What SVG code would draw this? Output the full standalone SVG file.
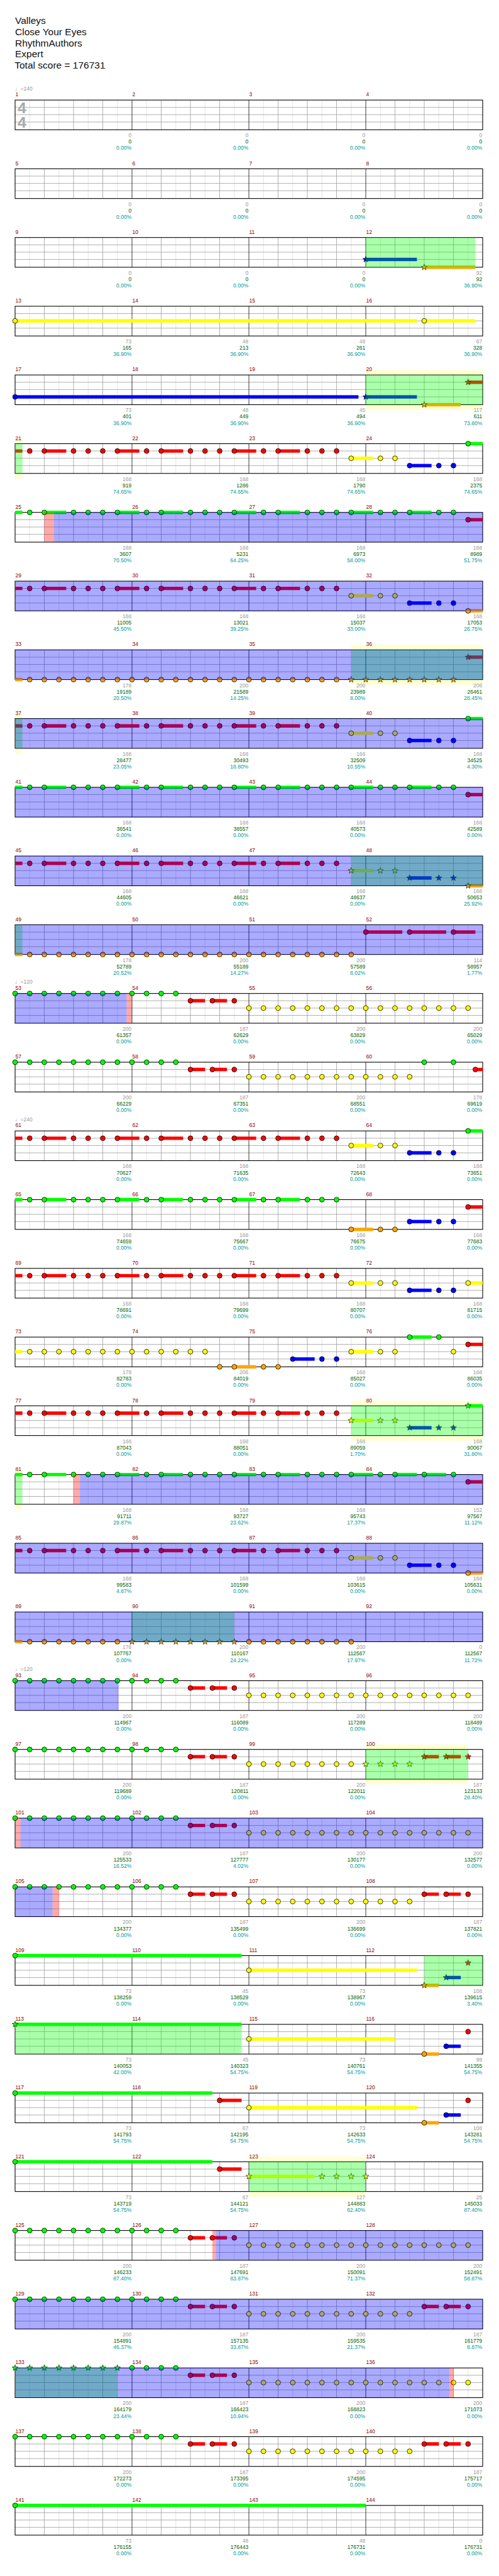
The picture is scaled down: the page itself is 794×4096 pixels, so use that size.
<svg xmlns="http://www.w3.org/2000/svg" width="794" height="4096" viewBox="0 0 794 4096">
<style>
.hl{stroke:#dcdcdc;stroke-width:1;fill:none}
.bl{stroke:#999;stroke-width:1;fill:none}
.ml{stroke:#000;stroke-width:1;fill:none}
.bd{fill:none;stroke:#000;stroke-width:1.4}
.ob{fill:#00f;fill-opacity:.333}
.or{fill:#f00;fill-opacity:.333}
.og{fill:#0f0;fill-opacity:.333}
.hy{fill:#ff0;fill-opacity:.18}
.t{font-family:"Liberation Sans","DejaVu Sans",Arial,sans-serif}
.ti{font-size:20px;fill:#111}
.mn{font-size:11px;fill:#8b0000}
.st{font-size:11px;text-anchor:end}
.sg{fill:#9a9a9a}.sc{fill:#006400}.sp{fill:#009a9a}
.tp{font-size:11px;fill:#999}
.ts{font-size:32px;font-weight:bold;fill:#aaa}
.G{fill:#0f0}.R{fill:#f00}.Y{fill:#ff0}.B{fill:#00f}.O{fill:#ffa500}
</style>
<defs>
<circle id="c" r="5" stroke="#000" stroke-width="1"/>
<polygon id="s" points="0,-6.5 1.6,-2.2 6.2,-2 2.6,0.8 3.8,5.3 0,2.7 -3.8,5.3 -2.6,0.8 -6.2,-2 -1.6,-2.2" stroke="#000" stroke-width="0.8"/>
<g id="staff">
<path class="hl" d="M61 0v61M121 0v61M181 0v61M241 0v61M301 0v61M361 0v61M421 0v61M481 0v61M541 0v61M601 0v61M661 0v61M721 0v61M781 0v61M841 0v61M901 0v61M961 0v61"/>
<path class="bl" d="M91 0v61M151 0v61M211 0v61M331 0v61M391 0v61M451 0v61M571 0v61M631 0v61M691 0v61M811 0v61M871 0v61M931 0v61M31 15h960M31 30h960M31 45h960"/>
<path class="ml" d="M271 0v61M511 0v61M751 0v61"/>
<rect class="bd" x="31" y="0" width="960" height="61"/>
</g>
<g id="ra">
<path d="M31-3.5h15v7h-15zM91-3.5h45v7h-45zM241-3.5h45v7h-45zM331-3.5h45v7h-45zM481-3.5h45v7h-45zM571-3.5h45v7h-45z"/>
<use href="#c" x="61"/><use href="#c" x="91"/><use href="#c" x="151"/><use href="#c" x="181"/><use href="#c" x="211"/><use href="#c" x="241"/><use href="#c" x="301"/><use href="#c" x="331"/><use href="#c" x="391"/><use href="#c" x="421"/><use href="#c" x="451"/><use href="#c" x="481"/><use href="#c" x="541"/><use href="#c" x="571"/><use href="#c" x="631"/><use href="#c" x="661"/><use href="#c" x="691"/>
</g>
<g id="tri"><rect y="-3.5" width="45" height="7"/><use href="#c"/><use href="#c" x="60"/><use href="#c" x="90"/></g>
<g id="tris"><rect y="-3.5" width="45" height="7"/><use href="#s"/><use href="#s" x="60"/><use href="#s" x="90"/></g>
<g id="rt"><path d="M0-3.5h30v7h-30zM45-3.5h30v7h-30z"/><use href="#c"/><use href="#c" x="45"/><use href="#c" x="90"/></g>
<g id="rts"><path d="M0-3.5h30v7h-30zM45-3.5h30v7h-30z"/><use href="#s"/><use href="#s" x="45"/><use href="#s" x="90"/></g>
<g id="g12" class="G"><use href="#c" x="31"/><use href="#c" x="61"/><use href="#c" x="91"/><use href="#c" x="121"/><use href="#c" x="151"/><use href="#c" x="181"/><use href="#c" x="211"/><use href="#c" x="241"/><use href="#c" x="271"/><use href="#c" x="301"/><use href="#c" x="331"/><use href="#c" x="361"/></g>
<g id="y12" class="Y"><use href="#c" x="511" y="30"/><use href="#c" x="541" y="30"/><use href="#c" x="571" y="30"/><use href="#c" x="601" y="30"/><use href="#c" x="631" y="30"/><use href="#c" x="661" y="30"/><use href="#c" x="691" y="30"/><use href="#c" x="721" y="30"/><use href="#c" x="751" y="30"/><use href="#c" x="781" y="30"/><use href="#c" x="811" y="30"/><use href="#c" x="841" y="30"/></g>
<g id="y16"><use href="#y12"/><g class="Y"><use href="#c" x="871" y="30"/><use href="#c" x="901" y="30"/><use href="#c" x="931" y="30"/><use href="#c" x="961" y="30"/></g></g>
<g id="slow"><use href="#g12"/><use href="#rt" x="391" y="15" class="R"/></g>
</defs>
<rect width="794" height="4096" fill="#fff"/>
<g transform="scale(0.775)">
<g id="header" class="t ti">
<text x="31" y="49">Valleys</text>
<text x="31" y="72">Close Your Eyes</text>
<text x="31" y="95">RhythmAuthors</text>
<text x="31" y="118">Expert</text>
<text x="30" y="141">Total score = 176731</text>
</g>

<g id="row-1-4" transform="translate(0,205.3)">
<text class="t tp" x="31" y="-20">♩=240</text>
<use href="#staff"/>
<text class="t ts" x="36" y="27">4</text><text class="t ts" x="36" y="57">4</text>
<text class="t mn" y="-7.5"><tspan x="31.5">1</tspan><tspan x="271.5">2</tspan><tspan x="511.5">3</tspan><tspan x="751.5">4</tspan></text>
<text class="t st sg" y="76.4"><tspan x="270">0</tspan><tspan x="510">0</tspan><tspan x="750">0</tspan><tspan x="990">0</tspan></text>
<text class="t st sc" y="89.4"><tspan x="270">0</tspan><tspan x="510">0</tspan><tspan x="750">0</tspan><tspan x="990">0</tspan></text>
<text class="t st sp" y="102.4"><tspan x="270">0.00%</tspan><tspan x="510">0.00%</tspan><tspan x="750">0.00%</tspan><tspan x="990">0.00%</tspan></text>
</g>

<g id="row-5-8" transform="translate(0,346.3)">
<use href="#staff"/>
<text class="t mn" y="-7.5"><tspan x="31.5">5</tspan><tspan x="271.5">6</tspan><tspan x="511.5">7</tspan><tspan x="751.5">8</tspan></text>
<text class="t st sg" y="76.4"><tspan x="270">0</tspan><tspan x="510">0</tspan><tspan x="750">0</tspan><tspan x="990">0</tspan></text>
<text class="t st sc" y="89.4"><tspan x="270">0</tspan><tspan x="510">0</tspan><tspan x="750">0</tspan><tspan x="990">0</tspan></text>
<text class="t st sp" y="102.4"><tspan x="270">0.00%</tspan><tspan x="510">0.00%</tspan><tspan x="750">0.00%</tspan><tspan x="990">0.00%</tspan></text>
</g>

<g id="row-9-12" transform="translate(0,487.3)">
<use href="#staff"/>
<rect class="B" x="751" y="41.5" width="105" height="7"/><use href="#s" class="B" x="751" y="45"/>
<rect class="O" x="871" y="57.5" width="105" height="7"/><use href="#s" class="O" x="871" y="61"/>
<rect class="og" x="751" width="225" height="61"/>
<text class="t mn" y="-7.5"><tspan x="31.5">9</tspan><tspan x="271.5">10</tspan><tspan x="511.5">11</tspan><tspan x="751.5">12</tspan></text>
<text class="t st sg" y="76.4"><tspan x="270">0</tspan><tspan x="510">0</tspan><tspan x="750">0</tspan><tspan x="990">92</tspan></text>
<text class="t st sc" y="89.4"><tspan x="270">0</tspan><tspan x="510">0</tspan><tspan x="750">0</tspan><tspan x="990">92</tspan></text>
<text class="t st sp" y="102.4"><tspan x="270">0.00%</tspan><tspan x="510">0.00%</tspan><tspan x="750">0.00%</tspan><tspan x="990">36.90%</tspan></text>
</g>

<g id="row-13-16" transform="translate(0,628.3)">
<use href="#staff"/>
<rect class="Y" x="31" y="26.5" width="825" height="7"/><use href="#c" class="Y" x="31" y="30"/>
<rect class="Y" x="871" y="26.5" width="105" height="7"/><use href="#c" class="Y" x="871" y="30"/>
<text class="t mn" y="-7.5"><tspan x="31.5">13</tspan><tspan x="271.5">14</tspan><tspan x="511.5">15</tspan><tspan x="751.5">16</tspan></text>
<text class="t st sg" y="76.4"><tspan x="270">73</tspan><tspan x="510">48</tspan><tspan x="750">48</tspan><tspan x="990">67</tspan></text>
<text class="t st sc" y="89.4"><tspan x="270">165</tspan><tspan x="510">213</tspan><tspan x="750">261</tspan><tspan x="990">328</tspan></text>
<text class="t st sp" y="102.4"><tspan x="270">36.90%</tspan><tspan x="510">36.90%</tspan><tspan x="750">36.90%</tspan><tspan x="990">36.90%</tspan></text>
</g>

<g id="row-17-20" transform="translate(0,769.3)">
<rect class="hy" x="751" y="-10" width="240" height="10"/><rect class="hy" x="751" y="61" width="240" height="10.5"/>
<use href="#staff"/>
<rect class="B" x="31" y="41.5" width="705" height="7"/><use href="#c" class="B" x="31" y="45"/>
<rect class="B" x="751" y="41.5" width="105" height="7"/><use href="#s" class="B" x="751" y="45"/>
<rect class="O" x="871" y="57.5" width="75" height="7"/><use href="#s" class="O" x="871" y="61"/>
<rect class="R" x="961" y="11.5" width="30" height="7"/><use href="#s" class="R" x="961" y="15"/>
<rect class="og" x="751" width="240" height="61"/>
<text class="t mn" y="-7.5"><tspan x="31.5">17</tspan><tspan x="271.5">18</tspan><tspan x="511.5">19</tspan><tspan x="751.5">20</tspan></text>
<text class="t st sg" y="76.4"><tspan x="270">73</tspan><tspan x="510">48</tspan><tspan x="750">45</tspan><tspan x="990">117</tspan></text>
<text class="t st sc" y="89.4"><tspan x="270">401</tspan><tspan x="510">449</tspan><tspan x="750">494</tspan><tspan x="990">611</tspan></text>
<text class="t st sp" y="102.4"><tspan x="270">36.90%</tspan><tspan x="510">36.90%</tspan><tspan x="750">36.90%</tspan><tspan x="990">73.80%</tspan></text>
</g>

<g id="row-21-24" transform="translate(0,910.3)">
<rect class="hy" x="31" y="-10" width="15" height="10"/><rect class="hy" x="31" y="61" width="15" height="10.5"/>
<use href="#staff"/>
<use href="#ra" y="15" class="R"/>
<use href="#tri" x="721" y="30" class="Y"/><use href="#tri" x="841" y="45" class="B"/>
<rect class="G" x="961" y="-3.5" width="30" height="7"/><use href="#c" class="G" x="961"/>
<rect class="og" x="31" width="15" height="61"/>
<text class="t mn" y="-7.5"><tspan x="31.5">21</tspan><tspan x="271.5">22</tspan><tspan x="511.5">23</tspan><tspan x="751.5">24</tspan></text>
<text class="t st sg" y="76.4"><tspan x="270">168</tspan><tspan x="510">168</tspan><tspan x="750">168</tspan><tspan x="990">168</tspan></text>
<text class="t st sc" y="89.4"><tspan x="270">919</tspan><tspan x="510">1286</tspan><tspan x="750">1790</tspan><tspan x="990">2375</tspan></text>
<text class="t st sp" y="102.4"><tspan x="270">74.65%</tspan><tspan x="510">74.65%</tspan><tspan x="750">74.65%</tspan><tspan x="990">74.65%</tspan></text>
</g>

<g id="row-25-28" transform="translate(0,1051.3)">
<use href="#staff"/>
<use href="#ra" class="G"/><use href="#tri" x="721" class="G"/><use href="#tri" x="841" class="G"/>
<rect class="R" x="961" y="11.5" width="30" height="7"/><use href="#c" class="R" x="961" y="15"/>
<rect class="or" x="91" width="20" height="61"/><rect class="ob" x="111" width="880" height="61"/>
<text class="t mn" y="-7.5"><tspan x="31.5">25</tspan><tspan x="271.5">26</tspan><tspan x="511.5">27</tspan><tspan x="751.5">28</tspan></text>
<text class="t st sg" y="76.4"><tspan x="270">168</tspan><tspan x="510">168</tspan><tspan x="750">168</tspan><tspan x="990">168</tspan></text>
<text class="t st sc" y="89.4"><tspan x="270">3607</tspan><tspan x="510">5231</tspan><tspan x="750">6973</tspan><tspan x="990">8989</tspan></text>
<text class="t st sp" y="102.4"><tspan x="270">70.50%</tspan><tspan x="510">64.25%</tspan><tspan x="750">58.00%</tspan><tspan x="990">51.75%</tspan></text>
</g>

<g id="row-29-32" transform="translate(0,1192.3)">
<use href="#staff"/>
<use href="#ra" y="15" class="R"/>
<use href="#tri" x="721" y="30" class="Y"/><use href="#tri" x="841" y="45" class="B"/>
<rect class="O" x="961" y="57.5" width="30" height="7"/><use href="#c" class="O" x="961" y="61"/>
<rect class="ob" x="31" width="960" height="61"/>
<text class="t mn" y="-7.5"><tspan x="31.5">29</tspan><tspan x="271.5">30</tspan><tspan x="511.5">31</tspan><tspan x="751.5">32</tspan></text>
<text class="t st sg" y="76.4"><tspan x="270">168</tspan><tspan x="510">168</tspan><tspan x="750">168</tspan><tspan x="990">168</tspan></text>
<text class="t st sc" y="89.4"><tspan x="270">11005</tspan><tspan x="510">13021</tspan><tspan x="750">15037</tspan><tspan x="990">17053</tspan></text>
<text class="t st sp" y="102.4"><tspan x="270">45.50%</tspan><tspan x="510">39.25%</tspan><tspan x="750">33.00%</tspan><tspan x="990">26.75%</tspan></text>
</g>

<g id="row-33-36" transform="translate(0,1333.3)">
<rect class="hy" x="721" y="-10" width="270" height="10"/><rect class="hy" x="721" y="61" width="270" height="10.5"/>
<use href="#staff"/>
<rect class="O" x="31" y="57.5" width="15" height="7"/>
<g class="O" transform="translate(0,61)"><use href="#c" x="61"/><use href="#c" x="91"/><use href="#c" x="121"/><use href="#c" x="151"/><use href="#c" x="181"/><use href="#c" x="211"/><use href="#c" x="241"/><use href="#c" x="271"/><use href="#c" x="301"/><use href="#c" x="331"/><use href="#c" x="361"/><use href="#c" x="391"/><use href="#c" x="421"/><use href="#c" x="451"/><use href="#c" x="481"/><use href="#c" x="511"/><use href="#c" x="541"/><use href="#c" x="571"/><use href="#c" x="601"/><use href="#c" x="631"/><use href="#c" x="661"/><use href="#c" x="691"/><use href="#s" x="721"/><use href="#s" x="751"/><use href="#s" x="781"/><use href="#s" x="811"/><use href="#s" x="841"/><use href="#s" x="871"/><use href="#s" x="901"/><use href="#s" x="931"/></g>
<rect class="R" x="961" y="11.5" width="30" height="7"/><use href="#s" class="R" x="961" y="15"/>
<rect class="og" x="721" width="270" height="61"/><rect class="ob" x="31" width="960" height="61"/>
<text class="t mn" y="-7.5"><tspan x="31.5">33</tspan><tspan x="271.5">34</tspan><tspan x="511.5">35</tspan><tspan x="751.5">36</tspan></text>
<text class="t st sg" y="76.4"><tspan x="270">178</tspan><tspan x="510">200</tspan><tspan x="750">200</tspan><tspan x="990">206</tspan></text>
<text class="t st sc" y="89.4"><tspan x="270">19189</tspan><tspan x="510">21589</tspan><tspan x="750">23989</tspan><tspan x="990">26461</tspan></text>
<text class="t st sp" y="102.4"><tspan x="270">20.50%</tspan><tspan x="510">14.25%</tspan><tspan x="750">8.00%</tspan><tspan x="990">28.45%</tspan></text>
</g>

<g id="row-37-40" transform="translate(0,1474.3)">
<rect class="hy" x="31" y="-10" width="15" height="10"/><rect class="hy" x="31" y="61" width="15" height="10.5"/>
<use href="#staff"/>
<use href="#ra" y="15" class="R"/>
<use href="#tri" x="721" y="30" class="Y"/><use href="#tri" x="841" y="45" class="B"/>
<rect class="G" x="961" y="-3.5" width="30" height="7"/><use href="#c" class="G" x="961"/>
<rect class="og" x="31" width="15" height="61"/><rect class="ob" x="31" width="960" height="61"/>
<text class="t mn" y="-7.5"><tspan x="31.5">37</tspan><tspan x="271.5">38</tspan><tspan x="511.5">39</tspan><tspan x="751.5">40</tspan></text>
<text class="t st sg" y="76.4"><tspan x="270">168</tspan><tspan x="510">168</tspan><tspan x="750">168</tspan><tspan x="990">168</tspan></text>
<text class="t st sc" y="89.4"><tspan x="270">28477</tspan><tspan x="510">30493</tspan><tspan x="750">32509</tspan><tspan x="990">34525</tspan></text>
<text class="t st sp" y="102.4"><tspan x="270">23.05%</tspan><tspan x="510">16.80%</tspan><tspan x="750">10.55%</tspan><tspan x="990">4.30%</tspan></text>
</g>

<g id="row-41-44" transform="translate(0,1615.3)">
<use href="#staff"/>
<use href="#ra" class="G"/><use href="#tri" x="721" class="G"/><use href="#tri" x="841" class="G"/>
<rect class="R" x="961" y="11.5" width="30" height="7"/><use href="#c" class="R" x="961" y="15"/>
<rect class="ob" x="31" width="960" height="61"/>
<text class="t mn" y="-7.5"><tspan x="31.5">41</tspan><tspan x="271.5">42</tspan><tspan x="511.5">43</tspan><tspan x="751.5">44</tspan></text>
<text class="t st sg" y="76.4"><tspan x="270">168</tspan><tspan x="510">168</tspan><tspan x="750">168</tspan><tspan x="990">168</tspan></text>
<text class="t st sc" y="89.4"><tspan x="270">36541</tspan><tspan x="510">38557</tspan><tspan x="750">40573</tspan><tspan x="990">42589</tspan></text>
<text class="t st sp" y="102.4"><tspan x="270">0.00%</tspan><tspan x="510">0.00%</tspan><tspan x="750">0.00%</tspan><tspan x="990">0.00%</tspan></text>
</g>

<g id="row-45-48" transform="translate(0,1756.3)">
<use href="#staff"/>
<use href="#ra" y="15" class="R"/>
<use href="#tris" x="721" y="30" class="Y"/><use href="#tris" x="841" y="45" class="B"/>
<rect class="O" x="961" y="57.5" width="30" height="7"/><use href="#s" class="O" x="961" y="61"/>
<rect class="og" x="721" width="270" height="61"/><rect class="ob" x="31" width="960" height="61"/>
<text class="t mn" y="-7.5"><tspan x="31.5">45</tspan><tspan x="271.5">46</tspan><tspan x="511.5">47</tspan><tspan x="751.5">48</tspan></text>
<text class="t st sg" y="76.4"><tspan x="270">168</tspan><tspan x="510">168</tspan><tspan x="750">168</tspan><tspan x="990">168</tspan></text>
<text class="t st sc" y="89.4"><tspan x="270">44605</tspan><tspan x="510">46621</tspan><tspan x="750">48637</tspan><tspan x="990">50653</tspan></text>
<text class="t st sp" y="102.4"><tspan x="270">0.00%</tspan><tspan x="510">0.00%</tspan><tspan x="750">0.00%</tspan><tspan x="990">25.92%</tspan></text>
</g>

<g id="row-49-52" transform="translate(0,1897.3)">
<use href="#staff"/>
<rect class="O" x="31" y="57.5" width="15" height="7"/>
<g class="O" transform="translate(0,61)"><use href="#c" x="61"/><use href="#c" x="91"/><use href="#c" x="121"/><use href="#c" x="151"/><use href="#c" x="181"/><use href="#c" x="211"/><use href="#c" x="241"/><use href="#c" x="271"/><use href="#c" x="301"/><use href="#c" x="331"/><use href="#c" x="361"/><use href="#c" x="391"/><use href="#c" x="421"/><use href="#c" x="451"/><use href="#c" x="481"/><use href="#c" x="511"/><use href="#c" x="541"/><use href="#c" x="571"/><use href="#c" x="601"/><use href="#c" x="631"/><use href="#c" x="661"/><use href="#c" x="691"/><use href="#c" x="721"/></g>
<g class="R"><rect x="751" y="11.5" width="75" height="7"/><use href="#c" x="751" y="15"/><rect x="841" y="11.5" width="75" height="7"/><use href="#c" x="841" y="15"/><rect x="931" y="11.5" width="45" height="7"/><use href="#c" x="931" y="15"/></g>
<rect class="og" x="31" width="15" height="61"/><rect class="ob" x="31" width="960" height="61"/>
<text class="t mn" y="-7.5"><tspan x="31.5">49</tspan><tspan x="271.5">50</tspan><tspan x="511.5">51</tspan><tspan x="751.5">52</tspan></text>
<text class="t st sg" y="76.4"><tspan x="270">178</tspan><tspan x="510">200</tspan><tspan x="750">200</tspan><tspan x="990">114</tspan></text>
<text class="t st sc" y="89.4"><tspan x="270">52789</tspan><tspan x="510">55189</tspan><tspan x="750">57589</tspan><tspan x="990">58957</tspan></text>
<text class="t st sp" y="102.4"><tspan x="270">20.52%</tspan><tspan x="510">14.27%</tspan><tspan x="750">8.02%</tspan><tspan x="990">1.77%</tspan></text>
</g>

<g id="row-53-56" transform="translate(0,2038.3)">
<text class="t tp" x="31" y="-20">♩=120</text>
<use href="#staff"/>
<use href="#slow"/><use href="#y16"/>
<rect class="ob" x="31" width="229" height="61"/><rect class="or" x="260" width="11" height="61"/>
<text class="t mn" y="-7.5"><tspan x="31.5">53</tspan><tspan x="271.5">54</tspan><tspan x="511.5">55</tspan><tspan x="751.5">56</tspan></text>
<text class="t st sg" y="76.4"><tspan x="270">200</tspan><tspan x="510">187</tspan><tspan x="750">200</tspan><tspan x="990">200</tspan></text>
<text class="t st sc" y="89.4"><tspan x="270">61357</tspan><tspan x="510">62629</tspan><tspan x="750">63829</tspan><tspan x="990">65029</tspan></text>
<text class="t st sp" y="102.4"><tspan x="270">0.00%</tspan><tspan x="510">0.00%</tspan><tspan x="750">0.00%</tspan><tspan x="990">0.00%</tspan></text>
</g>

<g id="row-57-60" transform="translate(0,2179.3)">
<use href="#staff"/>
<use href="#slow"/><use href="#y12"/>
<use href="#c" class="G" x="871"/><use href="#c" class="G" x="931"/>
<rect class="R" x="976" y="11.5" width="15" height="7"/><use href="#c" class="R" x="976" y="15"/>
<text class="t mn" y="-7.5"><tspan x="31.5">57</tspan><tspan x="271.5">58</tspan><tspan x="511.5">59</tspan><tspan x="751.5">60</tspan></text>
<text class="t st sg" y="76.4"><tspan x="270">200</tspan><tspan x="510">187</tspan><tspan x="750">200</tspan><tspan x="990">178</tspan></text>
<text class="t st sc" y="89.4"><tspan x="270">66229</tspan><tspan x="510">67351</tspan><tspan x="750">68551</tspan><tspan x="990">69619</tspan></text>
<text class="t st sp" y="102.4"><tspan x="270">0.00%</tspan><tspan x="510">0.00%</tspan><tspan x="750">0.00%</tspan><tspan x="990">0.00%</tspan></text>
</g>

<g id="row-61-64" transform="translate(0,2320.3)">
<text class="t tp" x="31" y="-20">♩=240</text>
<use href="#staff"/>
<use href="#ra" y="15" class="R"/>
<use href="#tri" x="721" y="30" class="Y"/><use href="#tri" x="841" y="45" class="B"/>
<rect class="G" x="961" y="-3.5" width="30" height="7"/><use href="#c" class="G" x="961"/>
<text class="t mn" y="-7.5"><tspan x="31.5">61</tspan><tspan x="271.5">62</tspan><tspan x="511.5">63</tspan><tspan x="751.5">64</tspan></text>
<text class="t st sg" y="76.4"><tspan x="270">168</tspan><tspan x="510">168</tspan><tspan x="750">168</tspan><tspan x="990">168</tspan></text>
<text class="t st sc" y="89.4"><tspan x="270">70627</tspan><tspan x="510">71635</tspan><tspan x="750">72643</tspan><tspan x="990">73651</tspan></text>
<text class="t st sp" y="102.4"><tspan x="270">0.00%</tspan><tspan x="510">0.00%</tspan><tspan x="750">0.00%</tspan><tspan x="990">0.00%</tspan></text>
</g>

<g id="row-65-68" transform="translate(0,2461.3)">
<use href="#staff"/>
<use href="#ra" class="G"/>
<use href="#tri" x="721" y="61" class="O"/><use href="#tri" x="841" y="45" class="B"/>
<rect class="R" x="961" y="11.5" width="30" height="7"/><use href="#c" class="R" x="961" y="15"/>
<text class="t mn" y="-7.5"><tspan x="31.5">65</tspan><tspan x="271.5">66</tspan><tspan x="511.5">67</tspan><tspan x="751.5">68</tspan></text>
<text class="t st sg" y="76.4"><tspan x="270">168</tspan><tspan x="510">168</tspan><tspan x="750">168</tspan><tspan x="990">168</tspan></text>
<text class="t st sc" y="89.4"><tspan x="270">74659</tspan><tspan x="510">75667</tspan><tspan x="750">76675</tspan><tspan x="990">77683</tspan></text>
<text class="t st sp" y="102.4"><tspan x="270">0.00%</tspan><tspan x="510">0.00%</tspan><tspan x="750">0.00%</tspan><tspan x="990">0.00%</tspan></text>
</g>

<g id="row-69-72" transform="translate(0,2602.3)">
<use href="#staff"/>
<use href="#ra" y="15" class="R"/>
<use href="#tri" x="721" y="30" class="Y"/><use href="#tri" x="841" y="45" class="B"/>
<rect class="Y" x="961" y="26.5" width="30" height="7"/><use href="#c" class="Y" x="961" y="30"/>
<text class="t mn" y="-7.5"><tspan x="31.5">69</tspan><tspan x="271.5">70</tspan><tspan x="511.5">71</tspan><tspan x="751.5">72</tspan></text>
<text class="t st sg" y="76.4"><tspan x="270">168</tspan><tspan x="510">168</tspan><tspan x="750">168</tspan><tspan x="990">168</tspan></text>
<text class="t st sc" y="89.4"><tspan x="270">78691</tspan><tspan x="510">79699</tspan><tspan x="750">80707</tspan><tspan x="990">81715</tspan></text>
<text class="t st sp" y="102.4"><tspan x="270">0.00%</tspan><tspan x="510">0.00%</tspan><tspan x="750">0.00%</tspan><tspan x="990">0.00%</tspan></text>
</g>

<g id="row-73-76" transform="translate(0,2743.3)">
<use href="#staff"/>
<g class="Y"><rect x="31" y="26.5" width="15" height="7"/><g transform="translate(0,30)"><use href="#c" x="61"/><use href="#c" x="91"/><use href="#c" x="121"/><use href="#c" x="151"/><use href="#c" x="181"/><use href="#c" x="211"/><use href="#c" x="241"/><use href="#c" x="271"/><use href="#c" x="301"/><use href="#c" x="331"/><use href="#c" x="361"/><use href="#c" x="391"/><use href="#c" x="421"/></g></g>
<use href="#c" class="O" x="451" y="61"/><use href="#tri" x="481" y="61" class="O"/>
<use href="#tri" x="601" y="45" class="B"/>
<use href="#tri" x="721" y="30" class="Y"/>
<g class="G"><rect x="841" y="-3.5" width="45" height="7"/><use href="#c" x="841"/><use href="#c" x="901"/></g>
<use href="#c" class="Y" x="931" y="30"/>
<rect class="R" x="961" y="11.5" width="30" height="7"/><use href="#c" class="R" x="961" y="15"/>
<text class="t mn" y="-7.5"><tspan x="31.5">73</tspan><tspan x="271.5">74</tspan><tspan x="511.5">75</tspan><tspan x="751.5">76</tspan></text>
<text class="t st sg" y="76.4"><tspan x="270">178</tspan><tspan x="510">206</tspan><tspan x="750">168</tspan><tspan x="990">168</tspan></text>
<text class="t st sc" y="89.4"><tspan x="270">82783</tspan><tspan x="510">84019</tspan><tspan x="750">85027</tspan><tspan x="990">86035</tspan></text>
<text class="t st sp" y="102.4"><tspan x="270">0.00%</tspan><tspan x="510">0.00%</tspan><tspan x="750">0.00%</tspan><tspan x="990">0.00%</tspan></text>
</g>

<g id="row-77-80" transform="translate(0,2884.3)">
<rect class="hy" x="721" y="-10" width="270" height="10"/><rect class="hy" x="721" y="61" width="270" height="10.5"/>
<use href="#staff"/>
<use href="#ra" y="15" class="R"/>
<use href="#tris" x="721" y="30" class="Y"/><use href="#tris" x="841" y="45" class="B"/>
<rect class="G" x="961" y="-3.5" width="30" height="7"/><use href="#s" class="G" x="961"/>
<rect class="og" x="721" width="270" height="61"/>
<text class="t mn" y="-7.5"><tspan x="31.5">77</tspan><tspan x="271.5">78</tspan><tspan x="511.5">79</tspan><tspan x="751.5">80</tspan></text>
<text class="t st sg" y="76.4"><tspan x="270">168</tspan><tspan x="510">168</tspan><tspan x="750">168</tspan><tspan x="990">168</tspan></text>
<text class="t st sc" y="89.4"><tspan x="270">87043</tspan><tspan x="510">88051</tspan><tspan x="750">89059</tspan><tspan x="990">90067</tspan></text>
<text class="t st sp" y="102.4"><tspan x="270">0.00%</tspan><tspan x="510">0.00%</tspan><tspan x="750">1.70%</tspan><tspan x="990">31.80%</tspan></text>
</g>

<g id="row-81-84" transform="translate(0,3025.3)">
<rect class="hy" x="31" y="-10" width="15" height="10"/><rect class="hy" x="31" y="61" width="15" height="10.5"/>
<use href="#staff"/>
<use href="#ra" class="G"/>
<g class="G"><rect x="721" y="-3.5" width="45" height="7"/><rect x="811" y="-3.5" width="45" height="7"/><rect x="871" y="-3.5" width="45" height="7"/><use href="#c" x="721"/><use href="#c" x="781"/><use href="#c" x="811"/><use href="#c" x="871"/><use href="#c" x="931"/></g>
<rect class="R" x="961" y="11.5" width="30" height="7"/><use href="#c" class="R" x="961" y="15"/>
<rect class="og" x="31" width="15" height="61"/><rect class="or" x="151" width="13" height="61"/><rect class="ob" x="164" width="827" height="61"/>
<text class="t mn" y="-7.5"><tspan x="31.5">81</tspan><tspan x="271.5">82</tspan><tspan x="511.5">83</tspan><tspan x="751.5">84</tspan></text>
<text class="t st sg" y="76.4"><tspan x="270">168</tspan><tspan x="510">168</tspan><tspan x="750">168</tspan><tspan x="990">152</tspan></text>
<text class="t st sc" y="89.4"><tspan x="270">91711</tspan><tspan x="510">93727</tspan><tspan x="750">95743</tspan><tspan x="990">97567</tspan></text>
<text class="t st sp" y="102.4"><tspan x="270">29.87%</tspan><tspan x="510">23.62%</tspan><tspan x="750">17.37%</tspan><tspan x="990">11.12%</tspan></text>
</g>

<g id="row-85-88" transform="translate(0,3166.3)">
<use href="#staff"/>
<use href="#ra" y="15" class="R"/>
<use href="#tri" x="721" y="30" class="Y"/><use href="#tri" x="841" y="45" class="B"/>
<rect class="O" x="961" y="57.5" width="30" height="7"/><use href="#c" class="O" x="961" y="61"/>
<rect class="ob" x="31" width="960" height="61"/>
<text class="t mn" y="-7.5"><tspan x="31.5">85</tspan><tspan x="271.5">86</tspan><tspan x="511.5">87</tspan><tspan x="751.5">88</tspan></text>
<text class="t st sg" y="76.4"><tspan x="270">168</tspan><tspan x="510">168</tspan><tspan x="750">168</tspan><tspan x="990">168</tspan></text>
<text class="t st sc" y="89.4"><tspan x="270">99583</tspan><tspan x="510">101599</tspan><tspan x="750">103615</tspan><tspan x="990">105631</tspan></text>
<text class="t st sp" y="102.4"><tspan x="270">4.87%</tspan><tspan x="510">0.00%</tspan><tspan x="750">0.00%</tspan><tspan x="990">0.00%</tspan></text>
</g>

<g id="row-89-92" transform="translate(0,3307.3)">
<use href="#staff"/>
<rect class="O" x="31" y="57.5" width="15" height="7"/>
<g class="O" transform="translate(0,61)"><use href="#c" x="61"/><use href="#c" x="91"/><use href="#c" x="121"/><use href="#c" x="151"/><use href="#c" x="181"/><use href="#c" x="211"/><use href="#c" x="241"/><use href="#s" x="271"/><use href="#s" x="301"/><use href="#s" x="331"/><use href="#s" x="361"/><use href="#s" x="391"/><use href="#s" x="421"/><use href="#s" x="451"/><use href="#s" x="481"/><use href="#c" x="511"/><use href="#c" x="541"/><use href="#c" x="571"/><use href="#c" x="601"/><use href="#c" x="631"/><use href="#c" x="661"/><use href="#c" x="691"/><use href="#c" x="721"/></g>
<rect class="og" x="271" width="210" height="61"/><rect class="ob" x="31" width="960" height="61"/>
<text class="t mn" y="-7.5"><tspan x="31.5">89</tspan><tspan x="271.5">90</tspan><tspan x="511.5">91</tspan><tspan x="751.5">92</tspan></text>
<text class="t st sg" y="76.4"><tspan x="270">178</tspan><tspan x="510">200</tspan><tspan x="750">200</tspan><tspan x="990">0</tspan></text>
<text class="t st sc" y="89.4"><tspan x="270">107767</tspan><tspan x="510">110167</tspan><tspan x="750">112567</tspan><tspan x="990">112567</tspan></text>
<text class="t st sp" y="102.4"><tspan x="270">0.00%</tspan><tspan x="510">24.22%</tspan><tspan x="750">17.97%</tspan><tspan x="990">11.72%</tspan></text>
</g>

<g id="row-93-96" transform="translate(0,3448.3)">
<text class="t tp" x="31" y="-20">♩=120</text>
<use href="#staff"/>
<use href="#slow"/><use href="#y16"/>
<rect class="ob" x="31" width="212.6" height="61"/>
<text class="t mn" y="-7.5"><tspan x="31.5">93</tspan><tspan x="271.5">94</tspan><tspan x="511.5">95</tspan><tspan x="751.5">96</tspan></text>
<text class="t st sg" y="76.4"><tspan x="270">200</tspan><tspan x="510">187</tspan><tspan x="750">200</tspan><tspan x="990">200</tspan></text>
<text class="t st sc" y="89.4"><tspan x="270">114967</tspan><tspan x="510">116089</tspan><tspan x="750">117289</tspan><tspan x="990">118489</tspan></text>
<text class="t st sp" y="102.4"><tspan x="270">0.00%</tspan><tspan x="510">0.00%</tspan><tspan x="750">0.00%</tspan><tspan x="990">0.00%</tspan></text>
</g>

<g id="row-97-100" transform="translate(0,3589.3)">
<rect class="hy" x="751" y="-10" width="210" height="10"/><rect class="hy" x="751" y="61" width="210" height="10.5"/>
<use href="#staff"/>
<use href="#slow"/>
<g class="Y" transform="translate(0,30)"><use href="#c" x="511"/><use href="#c" x="541"/><use href="#c" x="571"/><use href="#c" x="601"/><use href="#c" x="631"/><use href="#c" x="661"/><use href="#c" x="691"/><use href="#c" x="721"/><use href="#s" x="751"/><use href="#s" x="781"/><use href="#s" x="811"/><use href="#s" x="841"/></g>
<use href="#rts" x="871" y="15" class="R"/>
<rect class="og" x="751" width="210" height="61"/>
<text class="t mn" y="-7.5"><tspan x="31.5">97</tspan><tspan x="271.5">98</tspan><tspan x="511.5">99</tspan><tspan x="751.5">100</tspan></text>
<text class="t st sg" y="76.4"><tspan x="270">200</tspan><tspan x="510">187</tspan><tspan x="750">200</tspan><tspan x="990">187</tspan></text>
<text class="t st sc" y="89.4"><tspan x="270">119689</tspan><tspan x="510">120811</tspan><tspan x="750">122011</tspan><tspan x="990">123133</tspan></text>
<text class="t st sp" y="102.4"><tspan x="270">0.00%</tspan><tspan x="510">0.00%</tspan><tspan x="750">0.00%</tspan><tspan x="990">28.40%</tspan></text>
</g>

<g id="row-101-104" transform="translate(0,3730.3)">
<use href="#staff"/>
<use href="#slow"/><use href="#y16"/>
<rect class="or" x="31" width="11" height="61"/><rect class="ob" x="42" width="949" height="61"/>
<text class="t mn" y="-7.5"><tspan x="31.5">101</tspan><tspan x="271.5">102</tspan><tspan x="511.5">103</tspan><tspan x="751.5">104</tspan></text>
<text class="t st sg" y="76.4"><tspan x="270">200</tspan><tspan x="510">187</tspan><tspan x="750">200</tspan><tspan x="990">200</tspan></text>
<text class="t st sc" y="89.4"><tspan x="270">125533</tspan><tspan x="510">127777</tspan><tspan x="750">130177</tspan><tspan x="990">132577</tspan></text>
<text class="t st sp" y="102.4"><tspan x="270">16.52%</tspan><tspan x="510">4.02%</tspan><tspan x="750">0.00%</tspan><tspan x="990">0.00%</tspan></text>
</g>

<g id="row-105-108" transform="translate(0,3871.3)">
<use href="#staff"/>
<use href="#slow"/><use href="#y12"/><use href="#rt" x="871" y="15" class="R"/>
<rect class="ob" x="31" width="77" height="61"/><rect class="or" x="108" width="13.5" height="61"/>
<text class="t mn" y="-7.5"><tspan x="31.5">105</tspan><tspan x="271.5">106</tspan><tspan x="511.5">107</tspan><tspan x="751.5">108</tspan></text>
<text class="t st sg" y="76.4"><tspan x="270">200</tspan><tspan x="510">187</tspan><tspan x="750">200</tspan><tspan x="990">187</tspan></text>
<text class="t st sc" y="89.4"><tspan x="270">134377</tspan><tspan x="510">135499</tspan><tspan x="750">136699</tspan><tspan x="990">137821</tspan></text>
<text class="t st sp" y="102.4"><tspan x="270">0.00%</tspan><tspan x="510">0.00%</tspan><tspan x="750">0.00%</tspan><tspan x="990">0.00%</tspan></text>
</g>

<g id="row-109-112" transform="translate(0,4012.3)">
<use href="#staff"/>
<rect class="G" x="31" y="-3.5" width="465" height="7"/><use href="#c" class="G" x="31"/>
<rect class="Y" x="511" y="26.5" width="345" height="7"/><use href="#c" class="Y" x="511" y="30"/>
<rect class="O" x="871" y="57.5" width="30" height="7"/><use href="#s" class="O" x="871" y="61"/>
<rect class="B" x="916" y="41.5" width="30" height="7"/><use href="#s" class="B" x="916" y="45"/>
<use href="#s" class="R" x="961" y="15"/>
<rect class="og" x="871" width="120" height="61"/>
<text class="t mn" y="-7.5"><tspan x="31.5">109</tspan><tspan x="271.5">110</tspan><tspan x="511.5">111</tspan><tspan x="751.5">112</tspan></text>
<text class="t st sg" y="76.4"><tspan x="270">73</tspan><tspan x="510">45</tspan><tspan x="750">73</tspan><tspan x="990">108</tspan></text>
<text class="t st sc" y="89.4"><tspan x="270">138259</tspan><tspan x="510">138529</tspan><tspan x="750">138967</tspan><tspan x="990">139615</tspan></text>
<text class="t st sp" y="102.4"><tspan x="270">0.00%</tspan><tspan x="510">0.00%</tspan><tspan x="750">0.00%</tspan><tspan x="990">3.40%</tspan></text>
</g>

<g id="row-113-116" transform="translate(0,4153.3)">
<use href="#staff"/>
<rect class="G" x="31" y="-3.5" width="465" height="7"/><use href="#s" class="G" x="31"/>
<rect class="Y" x="511" y="26.5" width="300" height="7"/><use href="#c" class="Y" x="511" y="30"/>
<rect class="O" x="871" y="57.5" width="30" height="7"/><use href="#c" class="O" x="871" y="61"/>
<rect class="B" x="916" y="41.5" width="30" height="7"/><use href="#c" class="B" x="916" y="45"/>
<use href="#c" class="R" x="961" y="15"/>
<rect class="og" x="31" width="465" height="61"/>
<text class="t mn" y="-7.5"><tspan x="31.5">113</tspan><tspan x="271.5">114</tspan><tspan x="511.5">115</tspan><tspan x="751.5">116</tspan></text>
<text class="t st sg" y="76.4"><tspan x="270">73</tspan><tspan x="510">45</tspan><tspan x="750">73</tspan><tspan x="990">99</tspan></text>
<text class="t st sc" y="89.4"><tspan x="270">140053</tspan><tspan x="510">140323</tspan><tspan x="750">140761</tspan><tspan x="990">141355</tspan></text>
<text class="t st sp" y="102.4"><tspan x="270">42.00%</tspan><tspan x="510">54.75%</tspan><tspan x="750">54.75%</tspan><tspan x="990">54.75%</tspan></text>
</g>

<g id="row-117-120" transform="translate(0,4294.3)">
<use href="#staff"/>
<rect class="G" x="31" y="-3.5" width="405" height="7"/><use href="#c" class="G" x="31"/>
<rect class="R" x="451" y="11.5" width="45" height="7"/><use href="#c" class="R" x="451" y="15"/>
<rect class="Y" x="511" y="26.5" width="345" height="7"/><use href="#c" class="Y" x="511" y="30"/>
<rect class="O" x="871" y="57.5" width="30" height="7"/><use href="#c" class="O" x="871" y="61"/>
<rect class="B" x="916" y="41.5" width="30" height="7"/><use href="#c" class="B" x="916" y="45"/>
<use href="#c" class="R" x="961" y="15"/>
<text class="t mn" y="-7.5"><tspan x="31.5">117</tspan><tspan x="271.5">118</tspan><tspan x="511.5">119</tspan><tspan x="751.5">120</tspan></text>
<text class="t st sg" y="76.4"><tspan x="270">73</tspan><tspan x="510">67</tspan><tspan x="750">73</tspan><tspan x="990">108</tspan></text>
<text class="t st sc" y="89.4"><tspan x="270">141793</tspan><tspan x="510">142195</tspan><tspan x="750">142633</tspan><tspan x="990">143281</tspan></text>
<text class="t st sp" y="102.4"><tspan x="270">54.75%</tspan><tspan x="510">54.75%</tspan><tspan x="750">54.75%</tspan><tspan x="990">54.75%</tspan></text>
</g>

<g id="row-121-124" transform="translate(0,4435.3)">
<rect class="hy" x="511" y="-10" width="240" height="10"/><rect class="hy" x="511" y="61" width="240" height="10.5"/>
<use href="#staff"/>
<rect class="G" x="31" y="-3.5" width="405" height="7"/><use href="#c" class="G" x="31"/>
<rect class="R" x="451" y="11.5" width="45" height="7"/><use href="#c" class="R" x="451" y="15"/>
<g class="Y"><rect x="511" y="26.5" width="135" height="7"/><g transform="translate(0,30)"><use href="#s" x="511"/><use href="#s" x="661"/><use href="#s" x="691"/><use href="#s" x="721"/><use href="#s" x="751"/></g></g>
<rect class="og" x="511" width="240" height="61"/>
<text class="t mn" y="-7.5"><tspan x="31.5">121</tspan><tspan x="271.5">122</tspan><tspan x="511.5">123</tspan><tspan x="751.5">124</tspan></text>
<text class="t st sg" y="76.4"><tspan x="270">73</tspan><tspan x="510">67</tspan><tspan x="750">127</tspan><tspan x="990">25</tspan></text>
<text class="t st sc" y="89.4"><tspan x="270">143719</tspan><tspan x="510">144121</tspan><tspan x="750">144883</tspan><tspan x="990">145033</tspan></text>
<text class="t st sp" y="102.4"><tspan x="270">54.75%</tspan><tspan x="510">54.75%</tspan><tspan x="750">62.40%</tspan><tspan x="990">87.40%</tspan></text>
</g>

<g id="row-125-128" transform="translate(0,4576.3)">
<use href="#staff"/>
<use href="#slow"/><use href="#y16"/>
<rect class="or" x="436" width="7" height="61"/><rect class="ob" x="443" width="548" height="61"/>
<text class="t mn" y="-7.5"><tspan x="31.5">125</tspan><tspan x="271.5">126</tspan><tspan x="511.5">127</tspan><tspan x="751.5">128</tspan></text>
<text class="t st sg" y="76.4"><tspan x="270">200</tspan><tspan x="510">187</tspan><tspan x="750">200</tspan><tspan x="990">200</tspan></text>
<text class="t st sc" y="89.4"><tspan x="270">146233</tspan><tspan x="510">147691</tspan><tspan x="750">150091</tspan><tspan x="990">152491</tspan></text>
<text class="t st sp" y="102.4"><tspan x="270">87.40%</tspan><tspan x="510">83.87%</tspan><tspan x="750">71.37%</tspan><tspan x="990">58.87%</tspan></text>
</g>

<g id="row-129-132" transform="translate(0,4717.3)">
<use href="#staff"/>
<use href="#slow"/><use href="#y12"/><use href="#rt" x="871" y="15" class="R"/>
<rect class="ob" x="31" width="960" height="61"/>
<text class="t mn" y="-7.5"><tspan x="31.5">129</tspan><tspan x="271.5">130</tspan><tspan x="511.5">131</tspan><tspan x="751.5">132</tspan></text>
<text class="t st sg" y="76.4"><tspan x="270">200</tspan><tspan x="510">187</tspan><tspan x="750">200</tspan><tspan x="990">187</tspan></text>
<text class="t st sc" y="89.4"><tspan x="270">154891</tspan><tspan x="510">157135</tspan><tspan x="750">159535</tspan><tspan x="990">161779</tspan></text>
<text class="t st sp" y="102.4"><tspan x="270">46.37%</tspan><tspan x="510">33.87%</tspan><tspan x="750">21.37%</tspan><tspan x="990">8.87%</tspan></text>
</g>

<g id="row-133-136" transform="translate(0,4858.3)">
<use href="#staff"/>
<g class="G"><use href="#s" x="31"/><use href="#s" x="61"/><use href="#s" x="91"/><use href="#s" x="121"/><use href="#s" x="151"/><use href="#s" x="181"/><use href="#s" x="211"/><use href="#s" x="241"/><use href="#c" x="271"/><use href="#c" x="301"/><use href="#c" x="331"/><use href="#c" x="361"/></g>
<use href="#rt" x="391" y="15" class="R"/><use href="#y16"/>
<rect class="og" x="31" width="210.7" height="61"/><rect class="ob" x="31" width="892" height="61"/><rect class="or" x="923" width="8.5" height="61"/>
<text class="t mn" y="-7.5"><tspan x="31.5">133</tspan><tspan x="271.5">134</tspan><tspan x="511.5">135</tspan><tspan x="751.5">136</tspan></text>
<text class="t st sg" y="76.4"><tspan x="270">200</tspan><tspan x="510">187</tspan><tspan x="750">200</tspan><tspan x="990">200</tspan></text>
<text class="t st sc" y="89.4"><tspan x="270">164179</tspan><tspan x="510">166423</tspan><tspan x="750">168823</tspan><tspan x="990">171073</tspan></text>
<text class="t st sp" y="102.4"><tspan x="270">23.44%</tspan><tspan x="510">10.94%</tspan><tspan x="750">0.00%</tspan><tspan x="990">0.00%</tspan></text>
</g>

<g id="row-137-140" transform="translate(0,4999.3)">
<use href="#staff"/>
<use href="#slow"/><use href="#y12"/><use href="#rt" x="871" y="15" class="R"/>
<text class="t mn" y="-7.5"><tspan x="31.5">137</tspan><tspan x="271.5">138</tspan><tspan x="511.5">139</tspan><tspan x="751.5">140</tspan></text>
<text class="t st sg" y="76.4"><tspan x="270">200</tspan><tspan x="510">187</tspan><tspan x="750">200</tspan><tspan x="990">187</tspan></text>
<text class="t st sc" y="89.4"><tspan x="270">172273</tspan><tspan x="510">173395</tspan><tspan x="750">174595</tspan><tspan x="990">175717</tspan></text>
<text class="t st sp" y="102.4"><tspan x="270">0.00%</tspan><tspan x="510">0.00%</tspan><tspan x="750">0.00%</tspan><tspan x="990">0.00%</tspan></text>
</g>

<g id="row-141-144" transform="translate(0,5140.3)">
<use href="#staff"/>
<rect class="G" x="31" y="-3.5" width="720" height="7"/><use href="#c" class="G" x="31"/>
<text class="t mn" y="-7.5"><tspan x="31.5">141</tspan><tspan x="271.5">142</tspan><tspan x="511.5">143</tspan><tspan x="751.5">144</tspan></text>
<text class="t st sg" y="76.4"><tspan x="270">73</tspan><tspan x="510">48</tspan><tspan x="750">48</tspan><tspan x="990">0</tspan></text>
<text class="t st sc" y="89.4"><tspan x="270">176155</tspan><tspan x="510">176443</tspan><tspan x="750">176731</tspan><tspan x="990">176731</tspan></text>
<text class="t st sp" y="102.4"><tspan x="270">0.00%</tspan><tspan x="510">0.00%</tspan><tspan x="750">0.00%</tspan><tspan x="990">0.00%</tspan></text>
</g>
</g>
</svg>
